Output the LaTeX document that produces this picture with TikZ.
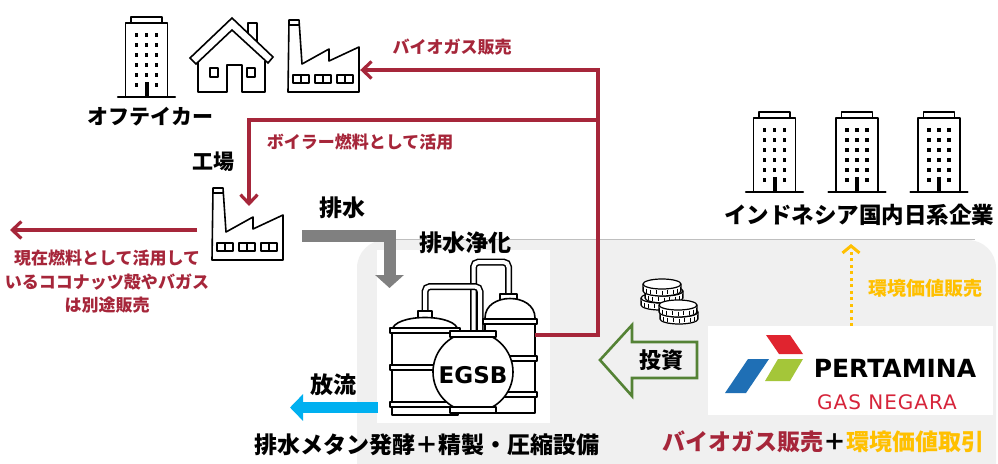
\documentclass[tikz,border=0pt]{standalone}
\usepackage{fontspec}
\setmainfont{Noto Sans CJK JP}
\newfontfamily\latinbold{DejaVu Sans}
\newfontfamily\pgnsubfont{DejaVu Sans}[LetterSpace=5]
\usetikzlibrary{arrows.meta}

\definecolor{flowred}{HTML}{A6263A}
\definecolor{drainGray}{HTML}{808080}
\definecolor{outBlue}{HTML}{00B0F0}
\definecolor{investGreen}{HTML}{548235}
\definecolor{valueGold}{HTML}{FFC000}
\definecolor{panelGray}{HTML}{F0F0F0}
\definecolor{panelEdge}{HTML}{BFBFBF}
\definecolor{pgnRed}{HTML}{E0242F}
\definecolor{pgnBlue}{HTML}{1F6FB5}
\definecolor{pgnGreen}{HTML}{A4C639}
\definecolor{pgnText}{HTML}{D6243A}

\newcommand\sizedfont[1]{\fontsize{#1}{#1}\selectfont}

\tikzset{
  icon/.style={draw=black, line width=1.6pt, line join=round},
  iconarea/.style={inner sep=0pt, draw=none},
  tag/.style={inner sep=0pt, font=\bfseries\sizedfont{21}},
  redtag/.style={inner sep=0pt, text=flowred, font=\bfseries\sizedfont{17}},
  redflow/.style={draw=flowred, line width=3.2pt, -{Straight Barb[length=9pt,width=17pt]}},
  office/.pic={
    \draw[icon, fill=white] (-21,0) rectangle (21,-74);
    \draw[icon, fill=white] (-15.5,-74) rectangle (15.5,-80);
    \draw[icon, line width=2.2pt, line cap=round] (-28.5,0) -- (28.5,0);
    \foreach \r in {-62,-52,-42,-32,-22} {
      \foreach \c in {-10,0,10} { \fill (\c-1.8,\r-2.3) rectangle ++(3.6,4.6); }
    }
    \fill (-11.8,-14.3) rectangle ++(3.6,4.6);
    \fill (8.2,-14.3) rectangle ++(3.6,4.6);
    \fill (-2,-15) rectangle (2,0);
  },
  factory/.pic={
    \draw[icon, fill=white] (1,0) -- (11,0) -- (14,44) -- (41,29) -- (41,41) -- (71,27) -- (71,72) -- (0,72) -- cycle;
    \draw[icon] (1.3,5) -- (11.3,5);
    \foreach \wx in {5,27,49} {
      \draw[icon, line width=1.3pt] (\wx,55) rectangle ++(16,8);
      \draw[icon, line width=1.3pt] (\wx+8,55) -- ++(0,8);
    }
  },
  house/.pic={
    \draw[icon, fill=white] (58,15.2) -- (58,5) -- (67,5) -- (67,23.8);
    \draw[icon, fill=white, line join=miter] (0,40) -- (42,0) -- (83,39) -- (78,45) -- (42,12) -- (6,46) -- cycle;
    \draw[icon] (8,44) -- (8,74) -- (37,74) -- (37,47) -- (52,47) -- (52,74) -- (75,74) -- (75,43);
    \draw[icon] (20,50) rectangle (28,59);
    \draw[icon] (57,50) rectangle (65,59);
  },
  coin/.pic={
    \filldraw[draw=black, fill=white, line width=1.2pt] (-19,0) -- (-19,7)
      arc[start angle=180, end angle=0, x radius=19, y radius=5] -- (19,0)
      arc[start angle=0, end angle=-180, x radius=19, y radius=5] -- cycle;
    \draw[line width=1.2pt] (-19,0) arc[start angle=180, end angle=0, x radius=19, y radius=5];
    \foreach \a in {162,144,...,18}
      \draw[line width=0.9pt] ({19*cos(\a)},{5*sin(\a)+1.6}) -- ({19*cos(\a)},{5*sin(\a)+5.6});
  },
}

\begin{document}
\begin{tikzpicture}[x=1pt, y=-1pt]
\useasboundingbox (0,0) rectangle (998,463);
\fill[white] (0,0) rectangle (998,463);

% Grey panel of the Indonesian side
\fill[panelGray, rounded corners=28pt] (357,240) rectangle (996,500);
\draw[panelEdge, line width=0.9pt] (340,239.5) -- (975,239.5);

% White backdrops for the plant drawing and the logo
\fill[white] (377,250) rectangle (550,423);
\fill[white] (708,326) rectangle (993,415);

% Offtakers
\pic at (146.5,97) {office};
\pic at (190,18) {house};
\pic at (288,20) {factory};
\node[iconarea, minimum width=72pt, minimum height=72pt] (topFactory) at (324,56) {};
\node[tag] (offtaker) at (150,117) {オフテイカー};

% Factory supplying wastewater
\pic at (212,188) {factory};
\node[iconarea, minimum width=72pt, minimum height=72pt] (plant) at (248,224) {};
\node[tag] (plantName) at (213,162) {工場};

% Japanese companies in Indonesia
\foreach \bx in {774.5,857,939} \pic at (\bx,192) {office};
\node[tag, font=\bfseries\sizedfont{22.5}] (jpCompanies) at (859,215) {インドネシア国内日系企業};

% Wastewater treatment plant (EGSB)
\node[iconarea, minimum width=173pt, minimum height=173pt] (egsb) at (463.5,336.5) {};
\begin{scope}
  % pipes
  \draw[line width=7pt, rounded corners=5pt] (473.5,334) -- (473.5,262) -- (508.5,262) -- (508.5,297);
  \draw[white, line width=4pt, rounded corners=5pt] (473.5,334) -- (473.5,262) -- (508.5,262) -- (508.5,297);
  \draw[line width=7pt, rounded corners=5pt] (425,315) -- (425,286.5) -- (480,286.5) -- (480,334);
  \draw[white, line width=4pt, rounded corners=5pt] (425,315) -- (425,286.5) -- (480,286.5) -- (480,334);
  % left tank
  \draw[icon, fill=white] (418,311) rectangle (432,319);
  \draw[icon, fill=white] (392,415) -- (392,331) .. controls (392,313) and (458,313) .. (458,331) -- (458,415) -- cycle;
  \draw[icon, fill=white] (390,328) rectangle (460,333);
  \draw[icon, fill=white] (390,365) rectangle (460,370);
  \draw[icon, fill=white] (390,402) rectangle (460,407);
  % right tank
  \draw[icon, fill=white] (500,294) rectangle (517,300);
  \draw[icon, fill=white] (485,413) -- (485,318) .. controls (485,292) and (535,292) .. (535,318) -- (535,413) -- cycle;
  \draw[icon, fill=white] (483,319) rectangle (537,324);
  \draw[icon, fill=white] (483,356) rectangle (537,361);
  \draw[icon, fill=white] (483,392) rectangle (537,397);
  % reactor sphere
  \draw[icon, fill=white] (473,372) circle[radius=40];
  \draw[icon, fill=white] (450,331) rectangle (496,337);
  \draw[icon, fill=white] (450,407) rectangle (496,413);
\end{scope}
\node[inner sep=0pt, font=\latinbold\bfseries\sizedfont{23}] (egsbName) at (473,375) {EGSB};
\node[tag, font=\bfseries\sizedfont{23}] (treat) at (465,243) {排水浄化};
\node[tag, font=\bfseries\sizedfont{23}] (plantTitle) at (427,445) {排水メタン発酵＋精製・圧縮設備};

% Pertamina Gas Negara
\fill[pgnRed] (766,335) -- (790,335) -- (803,354) -- (779,354) -- cycle;
\fill[pgnBlue] (748,359) -- (769,359) -- (746,393) -- (725,393) -- cycle;
\fill[pgnGreen] (778,359) -- (803,359) -- (790,381) -- (765,381) -- cycle;
\node[inner sep=0pt, font=\latinbold\bfseries\sizedfont{25}] (pgnName) at (895,368) {PERTAMINA};
\node[inner sep=0pt, text=pgnText, font=\pgnsubfont\sizedfont{20}] (pgnSub) at (887,402) {GAS NEGARA};
\node[tag, font=\bfseries\sizedfont{23}] (deal) at (823,442)
  {\textcolor{flowred}{バイオガス販売}＋\textcolor{valueGold}{環境価値取引}};

% Coins: a back stack of three and a front stack of two
\pic at (660,298) {coin};
\pic at (664,291) {coin};
\pic at (662,284) {coin};
\pic at (679,312) {coin};
\pic at (678,305) {coin};

% Investment arrow
\draw[draw=investGreen, line width=2.6pt, fill=panelGray, line join=miter]
  (600,360) -- (632,325) -- (632,342) -- (697,342) -- (697,378) -- (632,378) -- (632,396) -- cycle;
\node[tag, font=\bfseries\sizedfont{22}] (invest) at (661,360) {投資};

% Wastewater into the plant
\coordinate (drainFrom) at (302,236);
\coordinate (drainTo) at (389.5,288);
\draw[draw=drainGray, line width=12pt, -{Triangle[length=13pt,width=28pt]}] (drainFrom) -| (drainTo);
\node[tag, font=\bfseries\sizedfont{23}] (drain) at (342,208) {排水};

% Treated water discharge
\coordinate (outflowFrom) at (378,407.5);
\coordinate (outflowTo) at (290,407.5);
\draw[draw=outBlue, line width=11pt, -{Triangle[length=13pt,width=26pt]}] (outflowFrom) -- (outflowTo);
\node[tag, font=\bfseries\sizedfont{23}] (outflow) at (333,385) {放流};

% Biogas flows
\coordinate (egsbPort) at (535,335);
\coordinate (riseTop) at (598,70);
\coordinate (riseMid) at (598,120);
\coordinate (boilerIn) at (249,206);
\draw[redflow] (egsbPort) -| (riseTop) -- (topFactory.east |- riseTop);
\draw[redflow] (riseMid) -| (boilerIn);
\node[redtag] (saleTag) at (452,47) {バイオガス販売};
\node[redtag] (boilerTag) at (360,142) {ボイラー燃料として活用};

% Residues sold separately
\coordinate (residueFrom) at (197,230);
\coordinate (residueTo) at (10,230);
\draw[redflow] (residueFrom) -- (residueTo);
\node[redtag, align=center, font=\bfseries\fontsize{17}{23.5}\selectfont] (residueTag) at (107,282)
  {現在燃料として活用して\\いるココナッツ殻やバガス\\は別途販売};

% Environmental value
\coordinate (valueFrom) at (851,326);
\coordinate (valueTo) at (851,244);
\draw[draw=valueGold, line width=3pt, dash pattern=on 3pt off 3.5pt, -{Straight Barb[length=7pt,width=17pt]}] (valueFrom) -- (valueTo);
\node[redtag, text=valueGold, font=\bfseries\sizedfont{19}] (valueTag) at (925,288) {環境価値販売};
\end{tikzpicture}
\end{document}
